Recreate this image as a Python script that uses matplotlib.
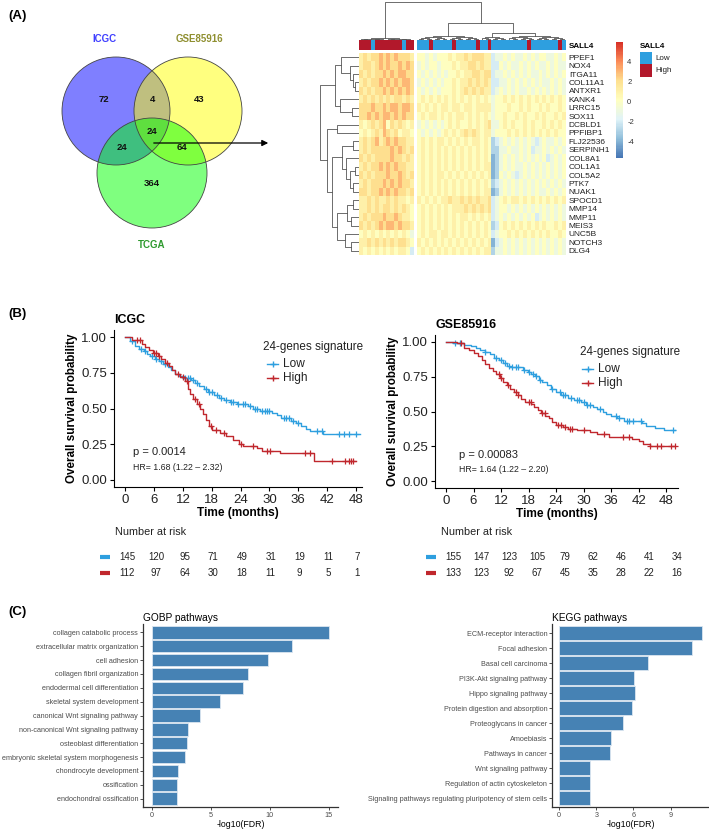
import matplotlib
matplotlib.use('Agg')
import matplotlib.pyplot as plt
import numpy as np
from matplotlib import transforms
from matplotlib.colors import ListedColormap, LinearSegmentedColormap, Normalize
from matplotlib.cm import ScalarMappable
from matplotlib.patches import Circle, Rectangle

plt.rcParams['font.family'] = ['Liberation Sans', 'DejaVu Sans']

W, H = 709, 830

# ==[0] Data

# -- Venn (A)
venn_names = ['ICGC', 'GSE85916', 'TCGA']
venn_counts = [72, 4, 43, 24, 24, 64, 364]   # I, I&G, G, I&G&T, I&T, G&T, T

# -- heatmap (A)
genes = ['PPEF1', 'NOX4', 'ITGA11', 'COL11A1', 'ANTXR1', 'KANK4', 'LRRC15', 'SOX11',
         'DCBLD1', 'PPFIBP1', 'FLJ22536', 'SERPINH1', 'COL8A1', 'COL1A1', 'COL5A2',
         'PTK7', 'NUAK1', 'SPOCD1', 'MMP14', 'MMP11', 'MEIS3', 'UNC5B', 'NOTCH3', 'DLG4']
# one string per gene, digit d -> z-score d - 4 ; left cluster | right cluster
hm_left = ['56566767676665', '56656767667676', '65656676767766', '56566767676776',
           '65656676767676', '56565656566565', '66676676776776', '66767677676766',
           '54565674656545', '45456576564554', '56567567676655', '56566666767656',
           '65656666766565', '56566767676655', '65656667667656', '56566676767665',
           '66566767676656', '55656556565545', '55656566565654', '56566676676554',
           '65656767767665', '45454545454543', '55656565656654', '54545454545542']
hm_right = ['4434344454556566655' + '23' + '34343343434433434',
            '3434434445455665655' + '22' + '43433434343343433',
            '4343434344545566566' + '23' + '34343434334343434',
            '3434343445455656565' + '22' + '33434343434334343',
            '4343434445456565655' + '23' + '43434334343434343',
            '4545454545454545454' + '34' + '45454545454545454',
            '5454545545545545555' + '34' + '44544545445454454',
            '4545545454554545454' + '34' + '45445454454544545',
            '3434343454544545456' + '33' + '45454454544545454',
            '4343434545456565455' + '34' + '44545454545454544',
            '4545455454545455454' + '12' + '34343434323433434',
            '4545454545454545454' + '11' + '33433434233434343',
            '4545454545454545454' + '01' + '34343434343423434',
            '4545454545454545455' + '01' + '34343343434343434',
            '4545455454545454545' + '01' + '43432343434343434',
            '4545454545454545454' + '12' + '34343434343434343',
            '4545454545454545455' + '01' + '34343434343343434',
            '5454545565565656556' + '23' + '45455454545454545',
            '4545454545556565656' + '23' + '44343434343434343',
            '4545454545455454545' + '23' + '43434343423434343',
            '4545454545454545454' + '12' + '45454545454544545',
            '4545545545454545454' + '23' + '44545454545454454',
            '5454545454545454545' + '02' + '34343434343434343',
            '4545454545454545455' + '13' + '34343434343434343']
sall4_left = 'HHHLHHHHHHHLHH'
sall4_right = 'LLLHLLLLLHLLLLLHLLHLLLLLLLLLHLLLLLLLHL'
# row linkage: (a, b, height)
row_links = [(3, 4, 4), (2, 24, 6), (1, 25, 9), (0, 26, 18), (6, 7, 7), (5, 28, 19),
             (27, 29, 24), (8, 9, 22), (10, 11, 6), (13, 14, 4), (15, 16, 6), (33, 34, 9),
             (12, 35, 13), (32, 36, 17), (17, 18, 6), (19, 20, 8), (38, 39, 12), (22, 23, 8),
             (21, 41, 14), (40, 42, 22), (37, 43, 27), (31, 44, 32), (30, 45, 39)]
# pheatmap palette: rev(brewer.pal(7, "RdYlBu"))
hm_palette = ['#4575B4', '#91BFDB', '#E0F3F8', '#FFFFBF', '#FEE090', '#FC8D59', '#D73027']

# -- Kaplan-Meier (B)
km_ticks = [0, 6, 12, 18, 24, 30, 36, 42, 48]

icgc_low_t = [0, 1.0, 2.0, 2.8, 3.8, 4.5, 5.2, 6.2, 7.0, 7.9, 8.8, 9.6, 10.4, 11.2, 12.2, 13.6,
              14.5, 15.4, 16.3, 17.3, 18.4, 19.5, 20.5, 21.8, 23.2, 25.5, 26.5, 28.0, 30.6,
              31.6, 32.4, 34.5, 35.6, 36.5, 37.6, 38.5, 41.2, 48.8]
icgc_low_s = [1.0, 0.97, 0.94, 0.92, 0.90, 0.88, 0.865, 0.85, 0.83, 0.81, 0.79, 0.77, 0.745,
              0.725, 0.715, 0.70, 0.68, 0.655, 0.635, 0.615, 0.595, 0.575, 0.56, 0.545, 0.53,
              0.515, 0.495, 0.485, 0.47, 0.455, 0.43, 0.415, 0.395, 0.375, 0.355, 0.345, 0.32, 0.32]
icgc_low_c = [1.5, 3.2, 4.2, 5.5, 6.5, 7.5, 8.2, 12.5, 13.0, 13.5, 14.0, 15.0, 16.8, 17.5, 18.0,
              19.0, 20.0, 21.0, 22.0, 22.5, 23.5, 24.5, 25.0, 26.0, 27.0, 27.5, 28.5, 29.0,
              29.5, 30.0, 33.0, 33.5, 34.0, 35.0, 36.0, 40.0, 41.0, 44.5, 45.5, 46.5, 48.0]
icgc_high_t = [0, 1.5, 3.5, 4.2, 5.0, 5.8, 6.8, 7.5, 8.3, 9.2, 9.8, 10.4, 11.4, 12.4, 13.0, 13.5,
               14.2, 15.0, 15.6, 16.2, 16.8, 17.4, 18.0, 19.8, 21.0, 22.4, 23.6, 24.5, 27.5,
               28.4, 32.2, 39.2, 48.0]
icgc_high_s = [1.0, 0.98, 0.955, 0.93, 0.91, 0.89, 0.87, 0.85, 0.82, 0.80, 0.77, 0.745, 0.72,
               0.69, 0.64, 0.60, 0.57, 0.53, 0.50, 0.46, 0.42, 0.38, 0.35, 0.33, 0.31, 0.28,
               0.25, 0.235, 0.22, 0.205, 0.185, 0.13, 0.13]
icgc_high_c = [2.5, 3.0, 6.0, 6.5, 7.0, 8.6, 11.0, 12.0, 12.8, 14.5, 15.4, 17.8, 18.8, 20.5, 24.0,
               26.5, 29.5, 30.2, 37.5, 38.5, 43.0, 45.8, 46.5, 47.0, 47.5]

gse_low_t = [0, 1.5, 4.0, 5.5, 6.5, 7.5, 8.5, 9.5, 10.5, 11.5, 12.5, 13.2, 14.0, 16.8, 17.8, 18.6,
             19.4, 20.2, 21.0, 22.0, 23.0, 24.0, 25.0, 26.5, 28.0, 29.5, 30.5, 32.0, 33.0, 34.2,
             35.0, 36.0, 37.2, 38.8, 42.8, 43.6, 45.5, 47.5, 50.0]
gse_low_s = [1.0, 0.99, 0.98, 0.97, 0.96, 0.94, 0.925, 0.91, 0.885, 0.87, 0.85, 0.83, 0.82, 0.80,
             0.785, 0.77, 0.755, 0.73, 0.71, 0.69, 0.665, 0.64, 0.62, 0.60, 0.585, 0.565, 0.55,
             0.53, 0.515, 0.495, 0.48, 0.465, 0.45, 0.435, 0.415, 0.395, 0.38, 0.37, 0.37]
gse_low_c = [2.0, 3.0, 8.5, 11.0, 12.0, 12.8, 13.8, 14.5, 15.2, 15.8, 17.0, 18.2, 19.0, 19.6, 20.4,
             23.2, 24.8, 25.5, 26.0, 27.2, 28.5, 29.0, 30.0, 30.8, 31.5, 33.5, 37.0, 37.8, 39.5,
             40.0, 40.8, 42.5, 49.5]
gse_high_t = [0, 2.5, 4.0, 5.0, 6.0, 7.0, 7.8, 8.6, 9.4, 10.2, 11.0, 11.8, 12.4, 13.2, 14.0, 14.8,
              15.6, 16.4, 17.2, 18.6, 19.2, 20.0, 20.8, 21.6, 22.4, 23.2, 24.0, 25.5, 26.6, 28.5,
              31.5, 33.0, 35.5, 38.0, 40.5, 42.0, 43.0, 44.5, 50.0]
gse_high_s = [1.0, 0.99, 0.96, 0.945, 0.92, 0.90, 0.87, 0.84, 0.815, 0.79, 0.77, 0.74, 0.71, 0.69,
              0.665, 0.64, 0.62, 0.59, 0.57, 0.555, 0.535, 0.51, 0.49, 0.47, 0.45, 0.425, 0.40,
              0.39, 0.375, 0.365, 0.355, 0.335, 0.32, 0.315, 0.30, 0.285, 0.265, 0.25, 0.25]
gse_high_c = [3.2, 11.5, 12.0, 13.5, 15.2, 15.8, 18.0, 18.5, 21.0, 21.5, 24.5, 25.0, 26.0, 27.0,
              27.5, 30.0, 34.5, 38.5, 40.0, 44.5, 46.0, 47.0, 49.0, 50.0]

icgc_risk_low = [145, 120, 95, 71, 49, 31, 19, 11, 7]
icgc_risk_high = [112, 97, 64, 30, 18, 11, 9, 5, 1]
gse_risk_low = [155, 147, 123, 105, 79, 62, 46, 41, 34]
gse_risk_high = [133, 123, 92, 67, 45, 35, 28, 22, 16]

# -- enrichment (C)
gobp_terms = ['collagen catabolic process', 'extracellular matrix organization', 'cell adhesion',
              'collagen fibril organization', 'endodermal cell differentiation',
              'skeletal system development', 'canonical Wnt signaling pathway',
              'non-canonical Wnt signaling pathway', 'osteoblast differentiation',
              'embryonic skeletal system morphogenesis', 'chondrocyte development',
              'ossification', 'endochondral ossification']
gobp_vals = [15.06, 11.92, 9.89, 8.16, 7.77, 5.79, 4.04, 3.05, 2.99, 2.80, 2.23, 2.09, 2.09]
kegg_terms = ['ECM-receptor interaction', 'Focal adhesion', 'Basal cell carcinoma',
              'PI3K-Akt signaling pathway', 'Hippo signaling pathway',
              'Protein digestion and absorption', 'Proteoglycans in cancer', 'Amoebiasis',
              'Pathways in cancer', 'Wnt signaling pathway', 'Regulation of actin cytoskeleton',
              'Signaling pathways regulating pluripotency of stem cells']
kegg_vals = [11.52, 10.70, 7.18, 6.07, 6.10, 5.88, 5.12, 4.20, 4.12, 2.52, 2.52, 2.52]

# ==[1] Figure helpers

BLUE = '#2E9FDF'
RED = '#C0272D'
fig = plt.figure(figsize=(W / 100, H / 100), dpi=100)


def ax_px(left, top, width, height):
    return fig.add_axes([left / W, 1 - (top + height) / H, width / W, height / H])


def draw_tree(ax, node, pos, vertical):
    if isinstance(node, int):
        return pos[node], 0
    h, a, b = node
    xa, ha = draw_tree(ax, a, pos, vertical)
    xb, hb = draw_tree(ax, b, pos, vertical)
    xs = [xa, xa, xb, xb]
    hs = [ha, h, h, hb]
    if vertical:
        ax.plot(xs, hs, color='#555555', lw=0.6)
    else:
        ax.plot(hs, xs, color='#555555', lw=0.6)
    return (xa + xb) / 2, h


def comb(cols, h):
    if len(cols) == 1:
        return cols[0]
    m = len(cols) // 2
    return (h, comb(cols[:m], h * 0.6), comb(cols[m:], h * 0.6))


# ==[2] Heatmap (A)
nL, nR = len(hm_left[0]), len(hm_right[0])
gap = 0.8
matL = np.array([[int(c) - 4 for c in r] for r in hm_left], dtype=float)
matR = np.array([[int(c) - 4 for c in r] for r in hm_right], dtype=float)
vmin, vmax = -5.7, 5.9
cmap = LinearSegmentedColormap.from_list('pheat', hm_palette, N=100)
xtot = nL + gap + nR

axh = ax_px(359, 53, 207, 202)
axh.imshow(matL, cmap=cmap, vmin=vmin, vmax=vmax, extent=(0, nL, len(genes), 0),
           aspect='auto', interpolation='nearest')
axh.imshow(matR, cmap=cmap, vmin=vmin, vmax=vmax, extent=(nL + gap, xtot, len(genes), 0),
           aspect='auto', interpolation='nearest')
axh.set_xlim(0, xtot)
axh.set_ylim(len(genes), 0)
for s in axh.spines.values():
    s.set_visible(False)
axh.set_xticks([])
axh.yaxis.tick_right()
axh.set_yticks(np.arange(len(genes)) + 0.5)
axh.set_yticklabels(genes, fontsize=6, color='#222222')
axh.tick_params(axis='y', length=0, pad=2)

# annotation bar
axa = ax_px(359, 40, 207, 10)
ann_cmap = ListedColormap([BLUE, '#B2182B'])
annL = np.array([[1 if c == 'H' else 0 for c in sall4_left]])
annR = np.array([[1 if c == 'H' else 0 for c in sall4_right]])
axa.imshow(annL, cmap=ann_cmap, vmin=0, vmax=1, extent=(0, nL, 1, 0), aspect='auto',
           interpolation='nearest')
axa.imshow(annR, cmap=ann_cmap, vmin=0, vmax=1, extent=(nL + gap, xtot, 1, 0), aspect='auto',
           interpolation='nearest')
axa.set_xlim(0, xtot)
axa.set_ylim(1, 0)
axa.axis('off')

# column dendrogram
col_pos = [i + 0.5 for i in range(nL)] + [nL + gap + j + 0.5 for j in range(nR)]
R = list(range(nL, nL + nR))
col_tree = (38, comb(list(range(nL)), 1.5),
            (17, (4, comb(R[:8], 2.5), comb(R[8:16], 2.5)),
             (7, comb(R[16:23], 3), (4, comb(R[23:30], 2.5), comb(R[30:], 2.5)))))
axd = ax_px(359, 0, 207, 40)
draw_tree(axd, col_tree, col_pos, True)
axd.set_xlim(0, xtot)
axd.set_ylim(0, 40)
axd.axis('off')

# row dendrogram
nodes = {i: i for i in range(len(genes))}
for k, (a, b, h) in enumerate(row_links):
    nodes[len(genes) + k] = (h, nodes[a], nodes[b])
axr = ax_px(320, 53, 39, 202)
draw_tree(axr, nodes[len(genes) + len(row_links) - 1], [i + 0.5 for i in range(len(genes))], False)
axr.set_xlim(39, 0)
axr.set_ylim(len(genes), 0)
axr.axis('off')

# colour key
cax = ax_px(616, 42, 7, 116)
cb = fig.colorbar(ScalarMappable(Normalize(vmin, vmax), cmap), cax=cax, ticks=[-4, -2, 0, 2, 4])
cb.outline.set_visible(False)
cax.set_yticklabels(['-4', '-2', '0', '2', '4'])
cax.tick_params(length=0, labelsize=5.5, labelcolor='#333333', pad=3)

# ==[3] Kaplan-Meier (B)


def km_panel(ax, curves, title, xlim):
    for t, s, c, col in curves:
        ax.step(t, s, where='post', color=col, lw=1.0)
        idx = np.searchsorted(t, c, side='right') - 1
        ax.plot(c, np.array(s)[idx], ls='none', marker='+', ms=4.5, mew=0.9, color=col)
    ax.set_xlim(*xlim)
    ax.set_ylim(-0.05, 1.05)
    ax.set_xticks(km_ticks)
    ax.set_yticks([0, 0.25, 0.5, 0.75, 1.0])
    ax.set_yticklabels(['0.00', '0.25', '0.50', '0.75', '1.00'])
    for side in ['top', 'right']:
        ax.spines[side].set_visible(False)
    for side in ['left', 'bottom']:
        ax.spines[side].set_linewidth(0.8)
    ax.tick_params(labelsize=9.5, length=3, width=0.8, pad=2, labelcolor='#222222')
    ax.set_xlabel('Time (months)', fontsize=8.6, fontweight='bold', labelpad=1)
    ax.set_ylabel('Overall survival probability', fontsize=8.4, fontweight='bold', labelpad=2)
    ax.set_title(title, loc='left', fontsize=9, fontweight='bold', pad=5)


ax1 = ax_px(114, 330, 248, 157)
km_panel(ax1, [(icgc_low_t, icgc_low_s, icgc_low_c, BLUE),
               (icgc_high_t, icgc_high_s, icgc_high_c, RED)], 'ICGC', (-2.35, 49.3))
ax2 = ax_px(435, 335, 243, 153)
km_panel(ax2, [(gse_low_t, gse_low_s, gse_low_c, BLUE),
               (gse_high_t, gse_high_s, gse_high_c, RED)], 'GSE85916', (-2.4, 50.6))

# ==[4] Enrichment bars (C)


def bar_panel(ax, terms, vals, title, xlim, ticks):
    y = np.arange(len(terms))
    ax.barh(y, vals, height=0.9, color='#4682B4', edgecolor='#dbe6f0', lw=0.6)
    ax.set_ylim(len(terms) - 0.4, -0.6)
    ax.set_xlim(*xlim)
    ax.set_yticks(y)
    ax.set_yticklabels(terms)
    ax.set_xticks(ticks)
    for side in ['top', 'right']:
        ax.spines[side].set_visible(False)
    for side in ['left', 'bottom']:
        ax.spines[side].set_linewidth(0.9)
        ax.spines[side].set_color('#333333')
    ax.tick_params(labelsize=5.2, labelcolor='#4d4d4d', length=2, width=0.6, color='#333333',
                   pad=1.5)
    ax.set_xlabel('-log10(FDR)', fontsize=6.3, labelpad=1)
    ax.set_title(title, loc='left', fontsize=7.3, pad=2.5)


axg = ax_px(143, 624, 195, 183)
bar_panel(axg, gobp_terms, gobp_vals, 'GOBP pathways', (-0.76, 15.8), [0, 5, 10, 15])
axk = ax_px(552, 624, 157, 183)
bar_panel(axk, kegg_terms, kegg_vals, 'KEGG pathways', (-0.58, 12.1), [0, 3, 6, 9])

# ==[5] Overlay in pixel coordinates: Venn, labels, legends, risk tables
ov = fig.add_axes([0, 0, 1, 1])
ov.set_xlim(0, W)
ov.set_ylim(H, 0)
ov.axis('off')
ov.patch.set_alpha(0)

for txt, (x, y) in zip(['(A)', '(B)', '(C)'], [(8, 16), (8, 314), (8, 612)]):
    ov.text(x, y, txt, fontsize=9.5, fontweight='bold', va='center', ha='left')

# Venn
venn_circ = [((116, 111), 54, '#0000ff'), ((188, 111), 54, '#ffff00'), ((152, 173), 55, '#00ff00')]
for (c, r, col) in venn_circ:
    ov.add_patch(Circle(c, r, facecolor=col, alpha=0.5, edgecolor='none'))
for (c, r, col) in venn_circ:
    ov.add_patch(Circle(c, r, facecolor='none', edgecolor='#444444', lw=0.6))
venn_lab_pos = [(104, 39), (199, 39), (152, 245)]
venn_lab_col = ['#4040ff', '#8f8f30', '#2e9a2e']
for name, (x, y), col in zip(venn_names, venn_lab_pos, venn_lab_col):
    ov.text(x, y, name, fontsize=7, fontweight='bold', color=col, ha='center', va='center')
venn_num_pos = [(104, 99), (152, 99), (199, 99), (152, 131), (122, 147), (182, 147), (152, 184)]
for n, (x, y) in zip(venn_counts, venn_num_pos):
    ov.text(x, y, str(n), fontsize=6.8, fontweight='bold', ha='center', va='center', color='#111111')
ov.annotate('', xy=(271, 143), xytext=(151, 143),
            arrowprops=dict(arrowstyle='-|>', color='black', lw=0.9, mutation_scale=9))

# SALL4 legend + annotation label
ov.text(569, 46, 'SALL4', fontsize=5.8, fontweight='bold', va='center', ha='left')
ov.text(640, 46, 'SALL4', fontsize=5.8, fontweight='bold', va='center', ha='left')
for k, (lab, col) in enumerate([('Low', BLUE), ('High', '#B2182B')]):
    ov.add_patch(Rectangle((640, 52 + 12.5 * k), 12, 12.5, facecolor=col, edgecolor='none'))
    ov.text(655, 58.5 + 12.5 * k, lab, fontsize=5.8, va='center', ha='left', color='#222222')

# KM legends and stats
for (tx, ty), (mx, my) in [((263, 347), (267, 364)), ((580, 352), (582, 369))]:
    ov.text(tx, ty, '24-genes signature', fontsize=8.4, va='center', ha='left', color='#222222')
    for k, (lab, col) in enumerate([('Low', BLUE), ('High', RED)]):
        yy = my + 14 * k
        ov.plot([mx, mx + 11], [yy, yy], color=col, lw=1.0)
        ov.plot([mx + 5.5], [yy], marker='+', ms=5, mew=1.0, color=col)
        ov.text(mx + 16, yy, lab, fontsize=8.6, va='center', ha='left', color='#222222')
ov.text(133, 452, 'p = 0.0014', fontsize=8, va='center', ha='left', color='#222222')
ov.text(133, 467, 'HR= 1.68 (1.22 \u2013 2.32)', fontsize=6.3, va='center', ha='left', color='#222222')
ov.text(459, 455, 'p = 0.00083', fontsize=8, va='center', ha='left', color='#222222')
ov.text(459, 469, 'HR= 1.64 (1.22 \u2013 2.20)', fontsize=6.3, va='center', ha='left', color='#222222')

# risk tables
for left, xlim, lows, highs, dash_x in [(116, (-2.35, 49.3), icgc_risk_low, icgc_risk_high, 100),
                                        (442, (-2.4, 50.6), gse_risk_low, gse_risk_high, 426)]:
    rax = ax_px(left, 540, 247, 40)
    rax.set_xlim(*xlim)
    rax.axis('off')
    tr = transforms.blended_transform_factory(rax.transData, ov.transData)
    ov.text(dash_x + 15, 532, 'Number at risk', fontsize=7.8, va='center', ha='left', color='#222222')
    for vals, col, yy in [(lows, BLUE, 557), (highs, RED, 573)]:
        ov.plot([dash_x, dash_x + 10], [yy, yy], color=col, lw=3, solid_capstyle='butt')
        for t, v in zip(km_ticks, vals):
            ov.text(t, yy, str(v), transform=tr, fontsize=7, ha='center', va='center',
                    color='#222222')

fig.savefig('out.png', dpi=100)
